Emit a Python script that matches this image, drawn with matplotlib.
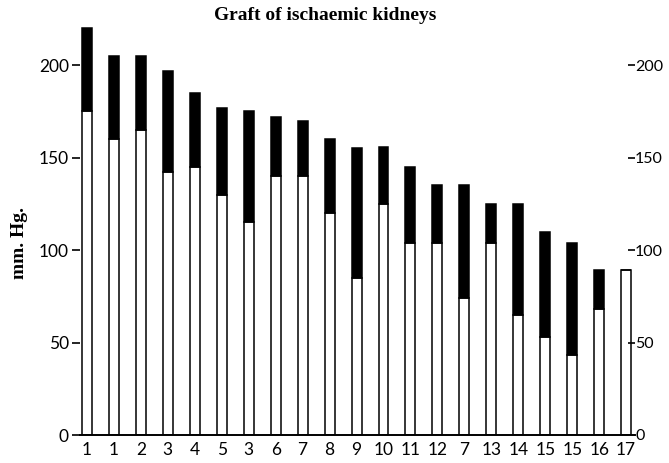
import numpy as np
import matplotlib
matplotlib.use('Agg')
import matplotlib.pyplot as plt

# case numbers under each bar
labels = ['1', '1', '2', '3', '4', '5', '3', '6', '7', '8', '9', '10',
          '11', '12', '7', '13', '14', '15', '15', '16', '17']
# top of black part (mm. Hg.)
upper = [220, 205, 205, 197, 185, 177, 175, 172, 170, 160, 155, 156,
         145, 135, 135, 125, 125, 110, 104, 89, 89]
# top of white part (mm. Hg.)
lower = [175, 160, 165, 142, 145, 130, 115, 140, 140, 120, 85, 125,
         104, 104, 74, 104, 65, 53, 43, 68, 89]
yticks = [0, 50, 100, 150, 200]

upper = np.array(upper)
lower = np.array(lower)
x = np.arange(len(labels))

fig = plt.figure(figsize=(6.69, 4.63), dpi=100)
ax = fig.add_axes([80/669, 28/463, 555/669, 416/463])

w = 0.37
ax.bar(x, lower, width=w, color='white', edgecolor='black', linewidth=1.1, zorder=2)
ax.bar(x, upper - lower, bottom=lower, width=w, color='black', edgecolor='black',
       linewidth=1.1, zorder=2)

ax.set_xlim(-0.26, 20.33)
ax.set_ylim(0, 225)

for s in ['left', 'right', 'top']:
    ax.spines[s].set_visible(False)
ax.spines['bottom'].set_linewidth(1.4)

tick_font = dict(family='Lato', size=12.5)
ax.set_xticks(x)
ax.set_xticklabels(labels, fontdict=tick_font)
ax.tick_params(axis='x', length=0, pad=5)

ax.set_yticks(yticks)
ax.set_yticklabels([str(v) for v in yticks], fontdict=tick_font)
ax.tick_params(axis='y', direction='out', length=6, width=1.2, pad=2)
ax.yaxis.get_major_ticks()[0].tick1line.set_visible(False)

ax2 = ax.twinx()
ax2.set_ylim(ax.get_ylim())
for s in ['left', 'right', 'top', 'bottom']:
    ax2.spines[s].set_visible(False)
ax2.set_yticks(yticks)
ax2.set_yticklabels([str(v) for v in yticks], fontdict=dict(family='Lato', size=11.5))
ax2.tick_params(axis='y', direction='in', length=5, width=1.2, pad=0)
ax2.yaxis.get_major_ticks()[0].tick2line.set_visible(False)

fig.text(325/669, 1 - 16/463, 'Graft of ischaemic kidneys', ha='center', va='center',
         family='Liberation Serif', fontweight='bold', fontsize=14)
fig.text(19/669, 1 - 243/463, 'mm. Hg.', ha='center', va='center', rotation=90,
         family='Liberation Serif', fontweight='bold', fontsize=14)

fig.savefig('out.png', dpi=100)
